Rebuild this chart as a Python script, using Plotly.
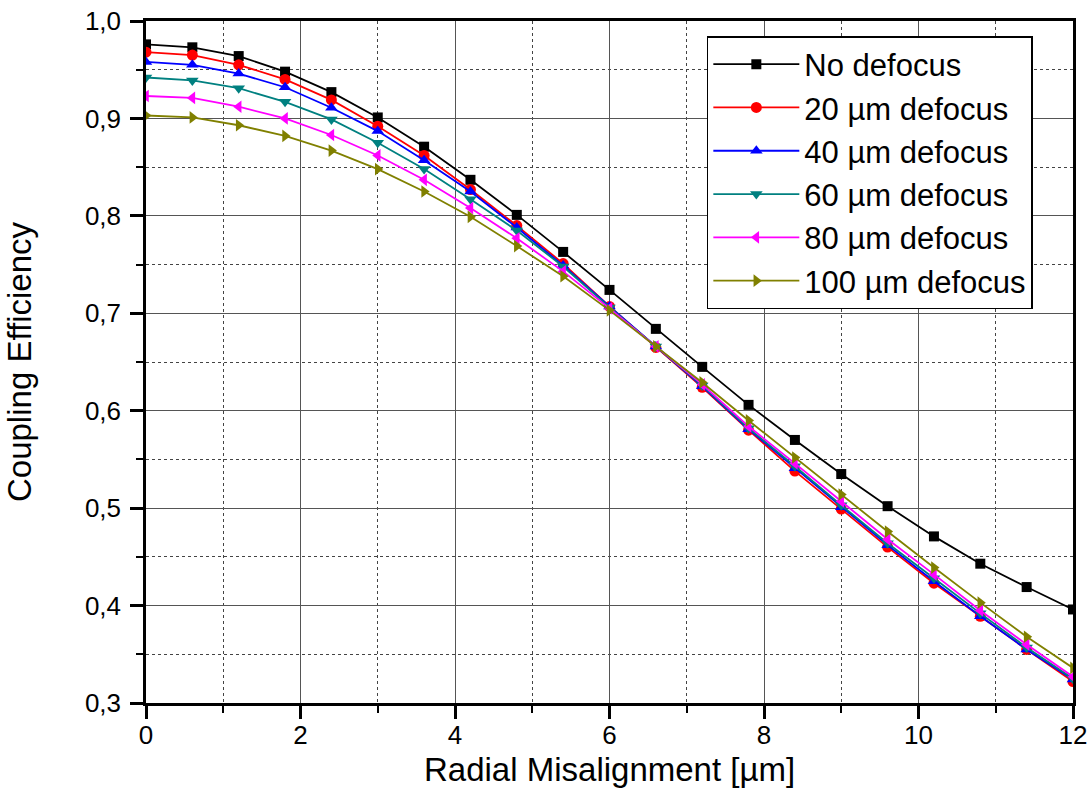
import plotly.graph_objects as go

x_um = [0, 0.6, 1.2, 1.8, 2.4, 3.0, 3.6, 4.2, 4.8, 5.4, 6.0, 6.6, 7.2, 7.8, 8.4, 9.0, 9.6, 10.2, 10.8, 11.4, 12]

no_defocus = [0.976, 0.973, 0.964, 0.948, 0.927, 0.901, 0.871, 0.837, 0.801, 0.763, 0.724, 0.684, 0.645, 0.606, 0.570, 0.535, 0.502, 0.471, 0.443, 0.419, 0.396]
defocus_20 = [0.968, 0.965, 0.955, 0.940, 0.919, 0.892, 0.862, 0.827, 0.790, 0.751, 0.707, 0.665, 0.624, 0.580, 0.538, 0.499, 0.460, 0.423, 0.389, 0.355, 0.322]
defocus_40 = [0.958, 0.955, 0.946, 0.932, 0.911, 0.887, 0.857, 0.825, 0.788, 0.749, 0.707, 0.666, 0.625, 0.581, 0.541, 0.501, 0.462, 0.425, 0.389, 0.355, 0.324]
defocus_60 = [0.942, 0.939, 0.931, 0.917, 0.899, 0.875, 0.848, 0.817, 0.785, 0.748, 0.706, 0.666, 0.626, 0.582, 0.543, 0.503, 0.464, 0.428, 0.392, 0.357, 0.325]
defocus_80 = [0.923, 0.921, 0.912, 0.900, 0.883, 0.862, 0.837, 0.808, 0.777, 0.743, 0.705, 0.666, 0.627, 0.584, 0.546, 0.507, 0.468, 0.432, 0.395, 0.360, 0.327]
defocus_100 = [0.903, 0.901, 0.893, 0.882, 0.867, 0.848, 0.825, 0.799, 0.769, 0.738, 0.703, 0.666, 0.629, 0.590, 0.552, 0.514, 0.476, 0.439, 0.403, 0.368, 0.336]

series_names = ["No defocus", "20 µm defocus", "40 µm defocus", "60 µm defocus", "80 µm defocus", "100 µm defocus"]
series_values = [no_defocus, defocus_20, defocus_40, defocus_60, defocus_80, defocus_100]
colors = ["#000000", "#FF0000", "#0000FF", "#008080", "#FF00FF", "#808000"]
symbols = ["square", "circle", "triangle-up", "triangle-down", "triangle-left", "triangle-right"]
sizes = [10, 11, 11, 11, 11, 11]

FONT = "Liberation Sans, Arial, sans-serif"

fig = go.Figure()
for name, vals, col, sym, sz in zip(series_names, series_values, colors, symbols, sizes):
    fig.add_trace(go.Scatter(
        x=x_um, y=vals, name=name, mode="lines+markers",
        line=dict(color=col, width=1.8),
        marker=dict(color=col, symbol=sym, size=sz, line=dict(width=0)),
    ))

fig.update_layout(
    width=1091, height=807,
    margin=dict(l=146, r=18, t=21, b=104),
    paper_bgcolor="white", plot_bgcolor="white",
    separators=", ",
    font=dict(family=FONT, color="black"),
    showlegend=True,
    legend=dict(
        x=0.605, y=0.978, xanchor="left", yanchor="top",
        bgcolor="white", bordercolor="black", borderwidth=1.5,
        font=dict(family=FONT, size=31, color="black"),
        itemwidth=86, tracegroupgap=0,
    ),
    annotations=[dict(
        text="Radial Misalignment [µm]", xref="paper", yref="paper",
        x=0.5, y=-0.097, xanchor="center", yanchor="middle", showarrow=False,
        font=dict(family=FONT, size=33, color="black"),
    )],
)

fig.update_xaxes(
    range=[0, 12], tick0=0, dtick=2, automargin=False,
    showline=True, linecolor="black", linewidth=2.5, mirror=True,
    ticks="outside", ticklen=13, tickwidth=2.5, tickcolor="black",
    ticklabelstandoff=-6,
    tickfont=dict(family=FONT, size=26, color="black"),
    showgrid=True, gridcolor="#555555", gridwidth=1,
    minor=dict(dtick=1, ticks="outside", ticklen=7, tickwidth=2, tickcolor="black",
               showgrid=True, gridcolor="#444444", gridwidth=1, griddash="dot"),
    zeroline=False,
)
fig.update_yaxes(
    range=[0.3, 1.0], tick0=0.3, dtick=0.1, tickformat=".1f", automargin=False,
    showline=True, linecolor="black", linewidth=2.5, mirror=True,
    ticks="outside", ticklen=13, tickwidth=2.5, tickcolor="black",
    ticklabelstandoff=4,
    tickfont=dict(family=FONT, size=26, color="black"),
    showgrid=True, gridcolor="#555555", gridwidth=1,
    minor=dict(dtick=0.05, ticks="outside", ticklen=7, tickwidth=2, tickcolor="black",
               showgrid=True, gridcolor="#444444", gridwidth=1, griddash="dot"),
    zeroline=False,
    title=dict(text="Coupling Efficiency", font=dict(family=FONT, size=33, color="black"), standoff=44),
)

fig.write_html("out.html")
